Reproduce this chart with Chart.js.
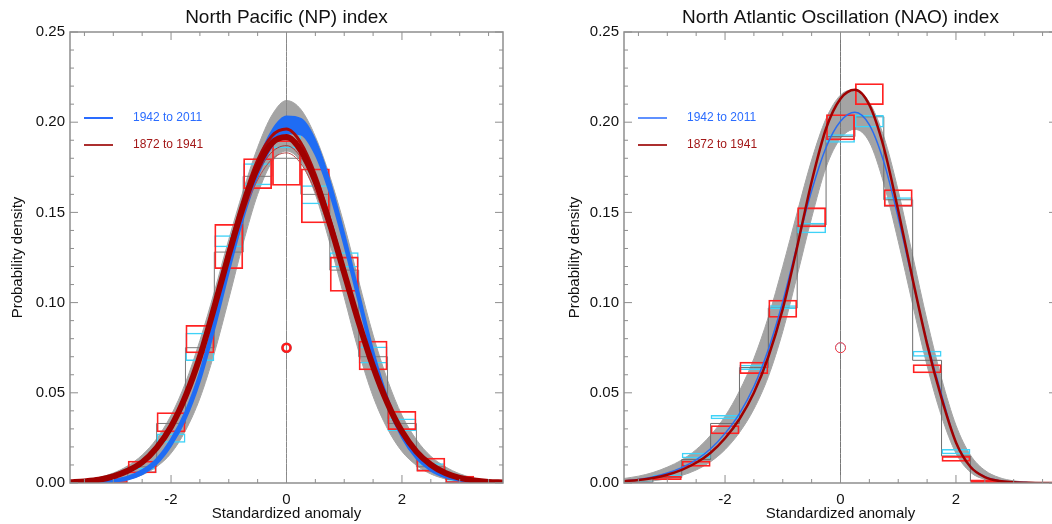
<!DOCTYPE html>
<html><head><meta charset="utf-8">
<script src="https://cdn.jsdelivr.net/npm/chart.js@4.4.1/dist/chart.umd.min.js"></script>
<style>
html,body{margin:0;padding:0;background:#fff;overflow:hidden;width:1052px;height:524px;}
#w1{position:absolute;left:0;top:0;width:526px;height:524px;}
#w2{position:absolute;left:530px;top:0;width:540px;height:524px;}
canvas{display:block;}
</style></head><body>
<div id="w1"><canvas id="c1" width="526" height="524"></canvas></div>
<div id="w2"><canvas id="c2" width="540" height="524"></canvas></div>
<script>
// ---------- data ----------
const xGrid = [-3.75,-3.5,-3.25,-3,-2.75,-2.5,-2.25,-2,-1.75,-1.5,-1.25,-1,-0.75,-0.5,-0.25,0,0.25,0.5,0.75,1,1.25,1.5,1.75,2,2.25,2.5,2.75,3,3.25,3.5,3.75];
const binCenters = [-3.5,-3,-2.5,-2,-1.5,-1,-0.5,0,0.5,1,1.5,2,2.5,3,3.5];

const xTickValues = [-2,0,2];
const xMinorTickValues = [-3.5,-3,-2.5,-1.5,-1,-0.5,0.5,1,1.5,2.5,3,3.5];
const yTickValues = [0,0.05,0.10,0.15,0.20,0.25];
const yMinorTickValues = [0.01,0.02,0.03,0.04,0.06,0.07,0.08,0.09,0.11,0.12,0.13,0.14,0.16,0.17,0.18,0.19,0.21,0.22,0.23,0.24];
const legendLabels = ['1942 to 2011','1872 to 1941'];
const zeroX = [0,0];
const zeroY = [0,0.25];
const markerX = [0];
const markerY = [0.075];

// North Pacific (NP) index
const grayUpperNP = [0.0008,0.0015,0.0030,0.0055,0.0095,0.0155,0.0245,0.0375,0.0555,0.0790,0.1060,0.1350,0.1620,0.1860,0.2040,0.2120,0.2070,0.1920,0.1700,0.1430,0.1120,0.0820,0.0570,0.0375,0.0240,0.0148,0.0090,0.0051,0.0027,0.0013,0.0006];
const grayLowerNP = [0.0000,0.0001,0.0003,0.0008,0.0020,0.0045,0.0090,0.0165,0.0290,0.0470,0.0720,0.1020,0.1330,0.1600,0.1780,0.1840,0.1780,0.1600,0.1330,0.1030,0.0730,0.0480,0.0300,0.0175,0.0098,0.0050,0.0023,0.0010,0.0004,0.0001,0.0000];
const blueUpperNP = [0.0002,0.0004,0.0008,0.0017,0.0035,0.0071,0.0134,0.0243,0.0396,0.0614,0.0907,0.1230,0.1533,0.1778,0.1953,0.2031,0.2018,0.1898,0.1673,0.1380,0.1057,0.0734,0.0471,0.0288,0.0164,0.0091,0.0048,0.0023,0.0011,0.0005,0.0002];
const blueLowerNP = [0.0000,0.0000,0.0002,0.0007,0.0019,0.0049,0.0106,0.0207,0.0354,0.0566,0.0853,0.1170,0.1467,0.1702,0.1867,0.1939,0.1932,0.1822,0.1607,0.1320,0.1003,0.0686,0.0429,0.0252,0.0136,0.0069,0.0032,0.0013,0.0005,0.0001,0.0000];
const redMainNP = [0.0004,0.0009,0.0018,0.0037,0.0068,0.0115,0.0195,0.0312,0.0480,0.0700,0.0975,0.1265,0.1535,0.1751,0.1885,0.1918,0.1843,0.1673,0.1436,0.1165,0.0892,0.0646,0.0442,0.0285,0.0174,0.0101,0.0055,0.0028,0.0014,0.0006,0.0003];
const redHighNP = [0.0003,0.0008,0.0017,0.0036,0.0067,0.0114,0.0194,0.0313,0.0484,0.0710,0.0994,0.1292,0.1569,0.1790,0.1925,0.1962,0.1885,0.1708,0.1462,0.1180,0.0898,0.0646,0.0438,0.0280,0.0169,0.0097,0.0052,0.0026,0.0013,0.0005,0.0002];
const thinRed1NP = [0.0004,0.0009,0.0019,0.0039,0.0071,0.0119,0.0200,0.0318,0.0485,0.0700,0.0962,0.1235,0.1487,0.1680,0.1795,0.1830,0.1770,0.1615,0.1400,0.1150,0.0890,0.0655,0.0455,0.0298,0.0185,0.0108,0.0060,0.0031,0.0015,0.0007,0.0003];
const thinRed2NP = [0.0004,0.0009,0.0018,0.0038,0.0069,0.0117,0.0198,0.0316,0.0483,0.0703,0.0972,0.1252,0.1512,0.1715,0.1835,0.1870,0.1805,0.1645,0.1420,0.1160,0.0892,0.0650,0.0447,0.0290,0.0178,0.0103,0.0057,0.0029,0.0014,0.0006,0.0003];
const stepNP = [0,0.002,0.009,0.033,0.075,0.128,0.170,0.180,0.160,0.118,0.070,0.033,0.009,0.002,0];
const redBoxLoNP  = [0,0,0.0054,0.0281,0.0719,0.1186,0.163,0.1648,0.144,0.106,0.0625,0.0294,0.0063,0,0];
const redBoxHiNP  = [0.0004,0.0031,0.0124,0.0392,0.0876,0.1436,0.180,0.190,0.1744,0.1255,0.0789,0.0399,0.014,0.004,0.0004];
const cyanBoxLoNP = [0,0,0.0055,0.0223,0.0676,0.1307,0.165,0.1855,0.1545,0.1194,0.0663,0.0288,0.0067,0,0];
const cyanBoxHiNP = [0.0002,0.0012,0.0085,0.0275,0.0833,0.1373,0.1772,0.1957,0.165,0.1279,0.0756,0.0358,0.0109,0.0015,0.0002];

// North Atlantic Oscillation (NAO) index
const grayUpperNAO = [0.0025,0.0038,0.0058,0.0088,0.0128,0.0185,0.0265,0.0370,0.0510,0.0690,0.0920,0.1200,0.1500,0.1790,0.2020,0.2150,0.2180,0.2110,0.1920,0.1620,0.1260,0.0900,0.0580,0.0320,0.0155,0.0070,0.0030,0.0012,0.0005,0.0002,0.0001];
const grayLowerNAO = [0.0003,0.0006,0.0012,0.0024,0.0042,0.0072,0.0118,0.0185,0.0280,0.0410,0.0590,0.0840,0.1150,0.1470,0.1750,0.1910,0.1960,0.1890,0.1660,0.1340,0.0990,0.0650,0.0370,0.0165,0.0060,0.0020,0.0006,0.0002,0.0000,0.0000,0.0000];
const blueNAO = [0.0012,0.0020,0.0033,0.0055,0.0085,0.0128,0.0190,0.0275,0.0385,0.0535,0.0740,0.1005,0.1320,0.1620,0.1860,0.2005,0.2055,0.1985,0.1780,0.1470,0.1120,0.0780,0.0490,0.0225,0.0090,0.0035,0.0013,0.0005,0.0002,0.0001,0.0000];
const redNAO = [0.0010,0.0017,0.0028,0.0046,0.0073,0.0112,0.0168,0.0248,0.0355,0.0500,0.0700,0.0965,0.1310,0.1670,0.1965,0.2130,0.2180,0.2095,0.1860,0.1510,0.1130,0.0770,0.0470,0.0225,0.0090,0.0033,0.0011,0.0004,0.0001,0.0000,0.0000];
const stepNAO = [0.0005,0.003,0.013,0.033,0.064,0.097,0.143,0.192,0.203,0.157,0.068,0.015,0.001,0,0];
const redBoxLoNAO  = [0,0.0017,0.009,0.027,0.0604,0.0916,0.1417,0.190,0.2095,0.1532,0.0608,0.0118,0,0,0];
const redBoxHiNAO  = [0.0004,0.004,0.0124,0.032,0.0672,0.1016,0.1528,0.2044,0.2216,0.1628,0.0658,0.015,0.002,0.0005,0.0003];
const cyanBoxLoNAO = [0,0.0034,0.0137,0.0353,0.0626,0.0965,0.1384,0.1886,0.197,0.1532,0.070,0.0159,0,0,0];
const cyanBoxHiNAO = [0.0008,0.0046,0.0168,0.0377,0.0656,0.0985,0.1443,0.1933,0.204,0.1584,0.0733,0.0188,0.001,0.0003,0.0002];

// ---------- helpers ----------
const FONT = '"Liberation Sans", Arial, Helvetica, sans-serif';
Chart.defaults.font.family = FONT;
const pts = (xs, ys) => xs.map((x, i) => ({x: x, y: ys[i]}));
const boxes = (lo, hi) => binCenters.map((x, i) => ({x: x, y: [lo[i], hi[i]]}));
function lineDs(data, o) {
  return Object.assign({type:'line', data: data, pointRadius:0, borderWidth:1, fill:false,
    cubicInterpolationMode:'monotone', borderColor:'#000', backgroundColor:'rgba(0,0,0,0)'}, o);
}
function boxDs(data, color, w, order) {
  return {type:'bar', data: data, borderColor: color, backgroundColor:'rgba(0,0,0,0)', borderWidth: w,
    borderSkipped:false, grouped:false, barPercentage:1, categoryPercentage:1, order: order, inflateAmount:0};
}
function markerDs(color, r, w, order) {
  return {type:'line', data: pts(markerX, markerY), showLine:false, pointRadius:r, pointStyle:'circle',
    pointBorderColor: color, pointBackgroundColor:'rgba(0,0,0,0)', pointBorderWidth:w, borderColor: color, order: order};
}

const decor = {
  id: 'decor',
  afterDraw(chart, args, o) {
    const ctx = chart.ctx, a = chart.chartArea, xs = chart.scales.x, ys = chart.scales.y;
    ctx.save();
    ctx.strokeStyle = '#8e8e8e'; ctx.lineWidth = 1.5;
    ctx.strokeRect(a.left, a.top, a.right - a.left, a.bottom - a.top);
    ctx.lineWidth = 1;
    ctx.beginPath();
    const xt = (v, len) => { const p = xs.getPixelForValue(v);
      ctx.moveTo(p, a.bottom); ctx.lineTo(p, a.bottom - len);
      ctx.moveTo(p, a.top); ctx.lineTo(p, a.top + len); };
    const yt = (v, len) => { const p = ys.getPixelForValue(v);
      ctx.moveTo(a.left, p); ctx.lineTo(a.left + len, p);
      ctx.moveTo(a.right, p); ctx.lineTo(a.right - len, p); };
    xTickValues.forEach(v => xt(v, 8));
    xMinorTickValues.forEach(v => xt(v, 4));
    yTickValues.forEach(v => yt(v, 8));
    yMinorTickValues.forEach(v => yt(v, 4));
    ctx.stroke();
    const cx = (a.left + a.right) / 2;
    ctx.fillStyle = '#111';
    ctx.textAlign = 'center'; ctx.textBaseline = 'alphabetic';
    ctx.font = '19px ' + FONT;
    ctx.fillText(o.title, cx, 23);
    ctx.font = '15px ' + FONT;
    ctx.fillText('Standardized anomaly', cx, 518);
    ctx.save();
    ctx.translate(o.yTitleX, (a.top + a.bottom) / 2);
    ctx.rotate(-Math.PI / 2);
    ctx.textBaseline = 'middle';
    ctx.fillText('Probability density', 0, 0);
    ctx.restore();
    const cols = o.legendColors, lw = o.legendWidths;
    ctx.textAlign = 'left'; ctx.textBaseline = 'middle';
    ctx.font = '12px ' + FONT;
    legendLabels.forEach((t, i) => {
      const y = a.top + 86 + i * 27;
      ctx.strokeStyle = cols[i]; ctx.lineWidth = lw[i];
      ctx.beginPath(); ctx.moveTo(a.left + 14, y); ctx.lineTo(a.left + 43, y); ctx.stroke();
      ctx.fillStyle = cols[i];
      ctx.fillText(t, a.left + 63, y);
    });
    ctx.restore();
  }
};

function makeOptions(yWidth, padRight, dcfg) {
  return {
    responsive: false, animation: false, devicePixelRatio: 1,
    layout: {padding: {left: 0, right: padRight, top: 32, bottom: 0}},
    plugins: {legend: {display: false}, tooltip: {enabled: false}, title: {display: false}, decor: dcfg},
    scales: {
      x: {type: 'linear', min: -3.75, max: 3.75, offset: false,
        grid: {display: false, drawTicks: false}, border: {display: false},
        ticks: {font: {size: 15}, color: '#111', padding: 8, callback: v => String(v)},
        afterBuildTicks: s => { s.ticks = xTickValues.map(v => ({value: v})); },
        afterFit: s => { s.height = 41; }},
      y: {type: 'linear', min: 0, max: 0.25,
        grid: {display: false, drawTicks: false}, border: {display: false},
        ticks: {font: {size: 15}, color: '#111', padding: 5, callback: v => Number(v).toFixed(2)},
        afterBuildTicks: s => { s.ticks = yTickValues.map(v => ({value: v})); },
        afterFit: s => { s.width = yWidth; }}
    }
  };
}

const GRAY = '#a4a4a4';
const dsNP = [
  lineDs(pts(xGrid, grayUpperNP), {borderColor: GRAY, backgroundColor: GRAY, fill: '+1', order: 20}),
  lineDs(pts(xGrid, grayLowerNP), {borderColor: GRAY, order: 19}),
  lineDs(pts(binCenters, stepNP), {stepped: 'middle', borderColor: '#7a7a7a', borderWidth: 1, order: 18}),
  lineDs(pts(zeroX, zeroY), {borderColor: '#888', borderWidth: 1, order: 17}),
  boxDs(boxes(cyanBoxLoNP, cyanBoxHiNP), '#3fd2f7', 1.5, 16),
  boxDs(boxes(redBoxLoNP, redBoxHiNP), '#ff2222', 1.8, 15),
  lineDs(pts(xGrid, blueUpperNP), {borderColor: '#1f6cf4', backgroundColor: '#1f6cf4', fill: '+1', borderWidth: 2, order: 14}),
  lineDs(pts(xGrid, blueLowerNP), {borderColor: '#1f6cf4', borderWidth: 2, order: 13}),
  lineDs(pts(xGrid, thinRed1NP), {borderColor: '#b84a4a', borderWidth: 1, order: 12}),
  lineDs(pts(xGrid, thinRed2NP), {borderColor: '#b03535', borderWidth: 1, order: 11}),
  lineDs(pts(xGrid, redHighNP), {borderColor: '#a80808', borderWidth: 3, order: 10}),
  lineDs(pts(xGrid, redMainNP), {borderColor: '#a00000', borderWidth: 6, order: 9}),
  markerDs('#40d0f0', 4.5, 1.5, 3),
  markerDs('#ff1a1a', 4, 2.6, 2)
];
const dsNAO = [
  lineDs(pts(xGrid, grayUpperNAO), {borderColor: GRAY, backgroundColor: GRAY, fill: '+1', order: 20}),
  lineDs(pts(xGrid, grayLowerNAO), {borderColor: GRAY, order: 19}),
  lineDs(pts(binCenters, stepNAO), {stepped: 'middle', borderColor: '#6e6e6e', borderWidth: 1, order: 18}),
  lineDs(pts(zeroX, zeroY), {borderColor: '#777', borderWidth: 1, order: 17}),
  boxDs(boxes(cyanBoxLoNAO, cyanBoxHiNAO), '#3fd2f7', 1.5, 16),
  boxDs(boxes(redBoxLoNAO, redBoxHiNAO), '#ff2222', 1.8, 15),
  lineDs(pts(xGrid, blueNAO), {borderColor: '#2a6cf0', borderWidth: 1.5, order: 11}),
  lineDs(pts(xGrid, redNAO), {borderColor: '#a00000', borderWidth: 2.5, order: 10}),
  markerDs('#7aaaf0', 5, 1, 3),
  markerDs('#ff4040', 5, 1, 2)
];

new Chart(document.getElementById('c1'), {
  type: 'bar', data: {datasets: dsNP},
  options: makeOptions(70, 23, {title: 'North Pacific (NP) index', yTitleX: 18,
    legendColors: ['#2a6cff', '#a31818'], legendWidths: [2, 1.8]}),
  plugins: [decor]
});
new Chart(document.getElementById('c2'), {
  type: 'bar', data: {datasets: dsNAO},
  options: makeOptions(94, 13, {title: 'North Atlantic Oscillation (NAO) index', yTitleX: 45,
    legendColors: ['#2a6cff', '#a31818'], legendWidths: [1.5, 1.8]}),
  plugins: [decor]
});
</script>
</body></html>
